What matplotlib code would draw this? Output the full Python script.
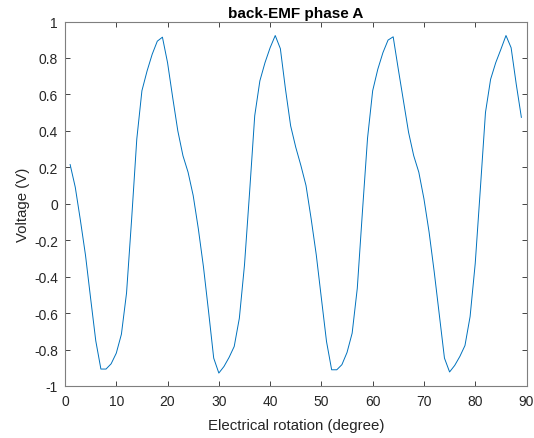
import matplotlib
matplotlib.use("Agg")
import matplotlib.pyplot as plt

plt.rcParams['font.family'] = ['Liberation Sans', 'DejaVu Sans']

angle_deg = list(range(1, 90))
voltage = [
    0.215, 0.091, -0.090, -0.283, -0.520, -0.752, -0.907, -0.907, -0.878, -0.820,
    -0.716, -0.490, -0.082, 0.355, 0.620, 0.728, 0.820, 0.892, 0.914, 0.774,
    0.583, 0.400, 0.264, 0.173, 0.045, -0.137, -0.346, -0.592, -0.847, -0.929,
    -0.893, -0.843, -0.783, -0.628, -0.337, 0.064, 0.483, 0.674, 0.774, 0.856,
    0.923, 0.851, 0.628, 0.428, 0.310, 0.210, 0.100, -0.082, -0.280, -0.519,
    -0.756, -0.911, -0.911, -0.883, -0.816, -0.710, -0.464, -0.045, 0.360, 0.620,
    0.738, 0.829, 0.898, 0.916, 0.738, 0.565, 0.392, 0.264, 0.173, 0.027,
    -0.155, -0.373, -0.610, -0.847, -0.923, -0.887, -0.838, -0.778, -0.619, -0.328,
    0.082, 0.501, 0.683, 0.774, 0.847, 0.923, 0.856, 0.656, 0.474,
]

x_ticks = [0, 10, 20, 30, 40, 50, 60, 70, 80, 90]
y_ticks = [-1, -0.8, -0.6, -0.4, -0.2, 0, 0.2, 0.4, 0.6, 0.8, 1]
y_tick_labels = ['-1', '-0.8', '-0.6', '-0.4', '-0.2', '0', '0.2', '0.4', '0.6', '0.8', '1']

fig = plt.figure(figsize=(5.34, 4.39), dpi=100)
ax = fig.add_axes([65/534, 1 - 387/439, (526.5 - 65)/534, (387 - 22.5)/439])

ax.plot(angle_deg, voltage, color='#0072BD', linewidth=0.7)

ax.set_xlim(0, 90)
ax.set_ylim(-1, 1)
ax.set_xticks(x_ticks)
ax.set_xticklabels([str(t) for t in x_ticks])
ax.set_yticks(y_ticks)
ax.set_yticklabels(y_tick_labels)

axcol = '#262626'
for s in ax.spines.values():
    s.set_color('#7f7f7f')
    s.set_linewidth(0.8)
ax.tick_params(direction='in', top=True, right=True, length=3.5, width=0.6,
               color='#262626', labelcolor=axcol, labelsize=10)
ax.tick_params(axis='x', pad=6)
ax.tick_params(axis='y', pad=5)

ax.set_xlabel('Electrical rotation (degree)', fontsize=10.8, color=axcol, labelpad=7)
ax.set_ylabel('Voltage (V)', fontsize=10.8, color=axcol, labelpad=3)
ax.set_title('back-EMF phase A', fontsize=11, fontweight='bold', color='black', pad=3.5)

fig.savefig('out.png', dpi=100)
